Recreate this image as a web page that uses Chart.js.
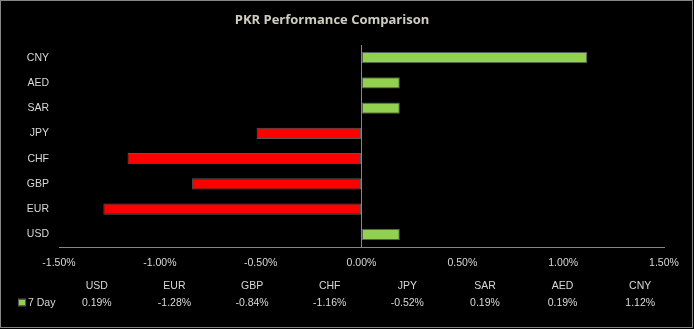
<!DOCTYPE html>
<html>
<head>
<meta charset="utf-8">
<script src="https://cdn.jsdelivr.net/npm/chart.js@4/dist/chart.umd.min.js"></script>
<style>
  html, body { margin: 0; padding: 0; background: #000; }
  #wrap { width: 694px; height: 329px; position: relative; }
</style>
</head>
<body>
<div id="wrap"><canvas id="c" width="694" height="329"></canvas></div>
<script>
const categories = ['USD', 'EUR', 'GBP', 'CHF', 'JPY', 'SAR', 'AED', 'CNY'];
const seriesName = '7 Day';
const values = [0.19, -1.28, -0.84, -1.16, -0.52, 0.19, 0.19, 1.12];
const axisMin = -1.5, axisMax = 1.5, axisStep = 0.5;
const titleText = 'PKR Performance Comparison';

const TEXT = '#d9d9d9';
const GRAY = '#868686';
const GREEN = '#92d050';
const RED = '#ff0000';
const FONT = "'Liberation Sans', Arial, sans-serif";
const fmt = v => v.toFixed(2) + '%';

const frame = {
  id: 'frame',
  beforeDraw(chart) {
    const ctx = chart.ctx;
    ctx.save();
    ctx.fillStyle = '#000';
    ctx.fillRect(0, 0, chart.width, chart.height);
    ctx.strokeStyle = GRAY;
    ctx.lineWidth = 1;
    ctx.strokeRect(0.5, 0.5, 692, 327);
    ctx.restore();
  }
};

const dataTable = {
  id: 'dataTable',
  afterDraw(chart) {
    const ctx = chart.ctx;
    const area = chart.chartArea;
    const colW = (area.right - area.left + 16) / categories.length;
    const left = area.left - 1;
    const yHead = area.bottom + 39;
    const yVal = area.bottom + 56;
    ctx.save();
    ctx.font = '10.5px ' + FONT;
    ctx.fillStyle = TEXT;
    ctx.textAlign = 'center';
    ctx.textBaseline = 'middle';
    categories.forEach((c, i) => {
      const cx = left + colW * (i + 0.5);
      ctx.fillText(c, cx, yHead);
      ctx.fillText(fmt(values[i]), cx, yVal);
    });
    // legend key
    ctx.fillStyle = GREEN;
    ctx.fillRect(19, yVal - 3.5, 6, 6);
    ctx.strokeStyle = '#595959';
    ctx.lineWidth = 1;
    ctx.strokeRect(18.5, yVal - 4, 7, 7);
    ctx.fillStyle = TEXT;
    ctx.textAlign = 'left';
    ctx.fillText(seriesName, 28, yVal);
    ctx.restore();
  }
};

new Chart(document.getElementById('c'), {
  type: 'bar',
  data: {
    labels: categories,
    datasets: [{
      label: seriesName,
      data: values,
      backgroundColor: values.map(v => v >= 0 ? GREEN : RED),
      borderColor: '#595959',
      borderWidth: 1,
      borderSkipped: false,
      categoryPercentage: 1,
      barPercentage: 0.44
    }]
  },
  options: {
    indexAxis: 'y',
    responsive: false,
    animation: false,
    devicePixelRatio: 1,
    layout: { padding: { left: 0, right: 30, top: 0, bottom: 0 } },
    plugins: {
      legend: { display: false },
      tooltip: { enabled: false },
      title: {
        display: true,
        text: titleText,
        color: '#d0ccc0',
        font: { family: "'Open Sans', sans-serif", size: 13, weight: 'bold' },
        padding: { top: 12, bottom: 17.4 }
      }
    },
    scales: {
      x: {
        min: axisMin,
        max: axisMax,
        afterFit(scale) { scale.height = 82; },
        ticks: {
          stepSize: axisStep,
          color: TEXT,
          font: { family: FONT, size: 10.5 },
          padding: 10,
          maxRotation: 0,
          callback: v => fmt(v)
        },
        grid: {
          drawTicks: false,
          color: ctx => (ctx.tick && ctx.tick.value === 0) ? GRAY : 'rgba(0,0,0,0)',
          lineWidth: 1
        },
        border: { display: true, color: GRAY, width: 1 }
      },
      y: {
        reverse: true,
        afterFit(scale) { scale.width = 59; },
        ticks: {
          color: TEXT,
          font: { family: FONT, size: 10.5 },
          padding: 10
        },
        grid: { display: false, drawTicks: false },
        border: { display: false }
      }
    }
  },
  plugins: [frame, dataTable]
});
</script>
</body>
</html>
